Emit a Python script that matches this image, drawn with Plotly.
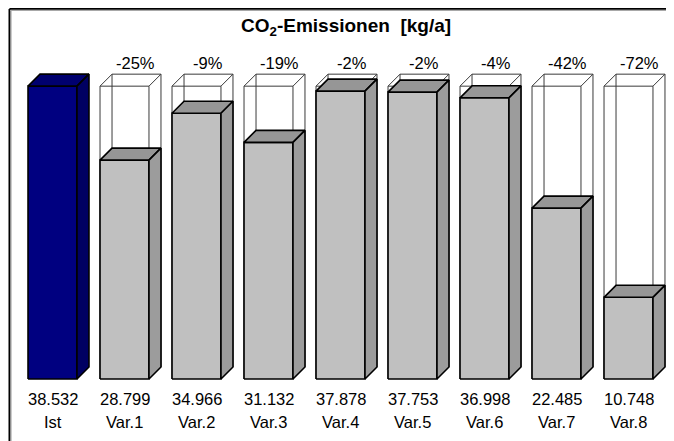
import plotly.graph_objects as go

categories = ["Ist", "Var.1", "Var.2", "Var.3", "Var.4", "Var.5", "Var.6", "Var.7", "Var.8"]
values = [38532, 28799, 34966, 31132, 37878, 37753, 36998, 22485, 10748]  # kg/a
title_text = "<b>CO<sub>2</sub>-Emissionen \u00a0[kg/a]</b>"

# page has an 8px body margin -> figure is 666x433 placed at (8,8)
W, H = 666, 433
PX_PER_CAT = 72.0
PX_PER_UNIT = 7.6          # pixels per 1000 kg/a
X0_PX = 44.5               # px position of first category centre (figure coords)
BASE_PX = 371.0            # px position of zero line (figure coords)

half_w = 0.34
dx = 12 / PX_PER_CAT
dy = 12 / PX_PER_UNIT
FONT = "Liberation Sans, Arial, sans-serif"
LABEL_SIZE = 16.5

fig = go.Figure()
ref = values[0] / 1000.0


def poly(xs, ys, fill, lw=1.6):
    fig.add_trace(go.Scatter(x=xs + [xs[0]], y=ys + [ys[0]], mode="lines", fill="toself",
                             fillcolor=fill, line=dict(color="black", width=lw),
                             hoverinfo="skip", showlegend=False))


for i, (cat, val) in enumerate(zip(categories, values)):
    v = val / 1000.0
    x0, x1 = i - half_w, i + half_w
    if i == 0:
        cf, ct, cs = "#000080", "#00006E", "#000062"
    else:
        cf, ct, cs = "#C0C0C0", "#969696", "#9C9C9C"
        R = ref
        wx = [x0, x0, x1, x1, None,
              x0, x0 + dx, x1 + dx, x1, None,
              x0 + dx, x0 + dx, None,
              x1 + dx, x1 + dx, x1]
        wy = [0, R, R, 0, None,
              R, R + dy, R + dy, R, None,
              R + dy, dy, None,
              R + dy, dy, 0]
        fig.add_trace(go.Scatter(x=wx, y=wy, mode="lines", line=dict(color="#3a3a3a", width=1),
                                 hoverinfo="skip", showlegend=False, connectgaps=False))
    poly([x0, x1, x1, x0], [0, 0, v, v], cf)
    poly([x0, x1, x1 + dx, x0 + dx], [v, v, v + dy, v + dy], ct)
    poly([x1, x1 + dx, x1 + dx, x1], [0, dy, v + dy, v], cs)

    fig.add_annotation(x=i, y=-2.57, text=f"{val:,}".replace(",", "."), showarrow=False,
                       font=dict(family=FONT, size=LABEL_SIZE, color="black"), yanchor="middle")
    fig.add_annotation(x=i, y=-5.72, text=cat, showarrow=False,
                       font=dict(family=FONT, size=LABEL_SIZE, color="black"), yanchor="middle")
    if i > 0:
        pct = round((val / values[0] - 1) * 100)
        fig.add_annotation(x=i + dx * 0.95, y=ref + dy + 1.45, text=f"{pct}%", showarrow=False,
                           font=dict(family=FONT, size=LABEL_SIZE, color="black"), yanchor="middle")

fig.add_annotation(xref="paper", yref="paper", x=(346.5 - 8) / W, y=1 - (27 - 8) / H, text=title_text,
                   showarrow=False, xanchor="center", yanchor="middle",
                   font=dict(family=FONT, size=19, color="black"))

# outer frame (top and left edges with light shadow)
fx, fy = 1.4 / W, 1 - 0.9 / H
sx, sy = 3.0 / W, 1 - 2.5 / H
fig.add_shape(type="line", xref="paper", yref="paper", x0=sx, y0=0, x1=sx, y1=sy,
              line=dict(color="#a8a8a8", width=1.2))
fig.add_shape(type="line", xref="paper", yref="paper", x0=sx, y0=sy, x1=1, y1=sy,
              line=dict(color="#a8a8a8", width=1.2))
fig.add_shape(type="line", xref="paper", yref="paper", x0=fx, y0=0, x1=fx, y1=fy,
              line=dict(color="black", width=1.8))
fig.add_shape(type="line", xref="paper", yref="paper", x0=fx, y0=fy, x1=1, y1=fy,
              line=dict(color="black", width=1.8))

fig.update_layout(
    width=W, height=H, margin=dict(l=0, r=0, t=0, b=0),
    paper_bgcolor="white", plot_bgcolor="white",
    xaxis=dict(range=[-X0_PX / PX_PER_CAT, (W - X0_PX) / PX_PER_CAT], visible=False, fixedrange=True),
    yaxis=dict(range=[-(H - BASE_PX) / PX_PER_UNIT, BASE_PX / PX_PER_UNIT], visible=False, fixedrange=True),
    showlegend=False,
)

fig.write_html("out.html")
